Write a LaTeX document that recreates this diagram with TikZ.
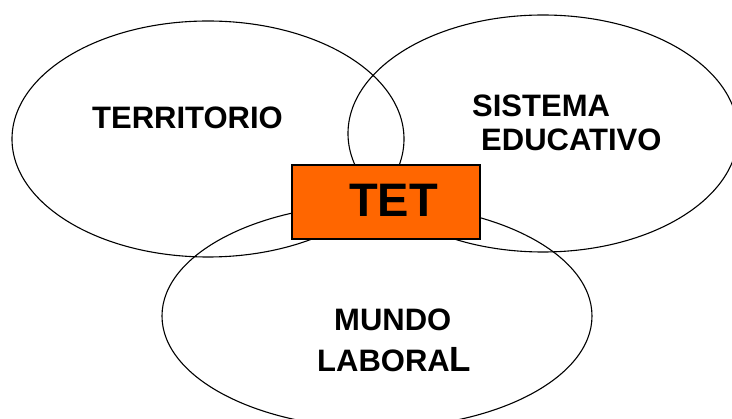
\documentclass[tikz,border=0pt]{standalone}
\usepackage{fontspec}
\setmainfont{Liberation Sans}
\begin{document}
\begin{tikzpicture}[x=1pt,y=-1pt,
  ring/.style={draw=black,line width=1.1pt},
  lbl/.style={inner sep=0pt,anchor=base west,font=\bfseries\fontsize{31}{37}\selectfont},
  tetbox/.style={draw=black,line width=1.3pt,fill=tetorange,minimum width=188pt,minimum height=74pt,inner sep=0pt}]
\definecolor{tetorange}{HTML}{FF6600}
\clip (0,0) rectangle (732,419);
\fill[white] (0,0) rectangle (732,419);
\draw[ring] (208,139) ellipse [x radius=196pt, y radius=118pt];
\draw[ring] (543,133.5) ellipse [x radius=195pt, y radius=118.5pt];
\draw[ring] (377,316) ellipse [x radius=215pt, y radius=112pt];
\node[tetbox] (tet) at (386,202) {};
\node[lbl,font=\bfseries\fontsize{47}{56}\selectfont] (tettext) at (349,217) {TET};
\node[lbl] (territorio) at (92,129) {TERRITORIO};
\node[lbl] (sistema) at (472,117) {SISTEMA};
\node[lbl] (educativo) at (481,151) {EDUCATIVO};
\node[lbl] (mundo) at (334,331) {MUNDO};
\node[lbl] (laboral) at (317,372) {LABORA{\fontsize{35}{40}\selectfont L}};
\end{tikzpicture}
\end{document}
